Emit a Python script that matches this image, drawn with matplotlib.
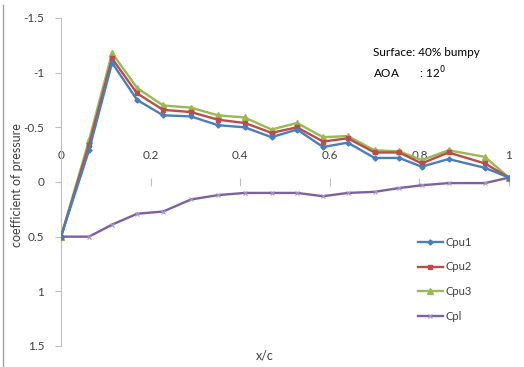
import matplotlib
matplotlib.use('Agg')
import matplotlib.pyplot as plt

# x/c stations and pressure coefficients
xc = [0, 0.0625, 0.114, 0.17, 0.228, 0.29, 0.35, 0.41, 0.47, 0.527,
      0.585, 0.64, 0.70, 0.755, 0.805, 0.865, 0.946, 1.0]
cpu1 = [0.5, -0.29, -1.09, -0.75, -0.61, -0.60, -0.52, -0.50, -0.41, -0.48,
        -0.32, -0.36, -0.22, -0.22, -0.14, -0.21, -0.13, -0.04]
cpu2 = [0.5, -0.34, -1.13, -0.81, -0.66, -0.64, -0.57, -0.54, -0.45, -0.50,
        -0.37, -0.40, -0.27, -0.27, -0.17, -0.27, -0.17, -0.04]
cpu3 = [0.5, -0.38, -1.18, -0.86, -0.70, -0.68, -0.61, -0.59, -0.48, -0.54,
        -0.41, -0.42, -0.29, -0.28, -0.20, -0.29, -0.23, -0.04]
cpl = [0.5, 0.50, 0.39, 0.29, 0.27, 0.16, 0.12, 0.10, 0.10, 0.10,
       0.13, 0.10, 0.09, 0.055, 0.03, 0.01, 0.01, -0.04]

xticks = [0, 0.2, 0.4, 0.6, 0.8, 1]
xticklabels = ['0', '0.2', '0.4', '0.6', '0.8', '1']
yticks = [-1.5, -1, -0.5, 0, 0.5, 1, 1.5]
yticklabels = ['-1.5', '-1', '-0.5', '0', '0.5', '1', '1.5']

plt.rcParams['font.family'] = ['Lato', 'DejaVu Sans']

fig = plt.figure(figsize=(5.24, 3.67), dpi=100)
ax = fig.add_axes([61/524, 1-346/367, 448/524, 328/367])

ax.plot(xc, cpu1, color='#4A7EBB', lw=1.7, marker='D', ms=2.6, label='Cpu1', zorder=4)
ax.plot(xc, cpu2, color='#BE4B48', lw=1.7, marker='s', ms=3.4, label='Cpu2', zorder=3)
ax.plot(xc, cpu3, color='#98B954', lw=1.7, marker='^', ms=3.8, label='Cpu3', zorder=2)
ax.plot(xc, cpl, color='#7D60A0', lw=1.7, marker='x', ms=3.5, mew=0.8,
        mec='#A99BC0', label='Cpl', zorder=2)

ax.set_xlim(0, 1)
ax.set_ylim(1.5, -1.5)

for s in ['right', 'bottom']:
    ax.spines[s].set_visible(False)
ax.spines['left'].set_color('#BFBFBF')
ax.spines['top'].set_position(('data', 0))
ax.spines['top'].set_visible(False)

ax.xaxis.set_ticks_position('top')
ax.set_xticks(xticks)
ax.set_xticklabels(xticklabels)
ax.tick_params(axis='x', direction='inout', length=6, color='#BFBFBF',
               pad=12, labelsize=8.5, labelcolor='#404040')
ax.set_yticks(yticks)
ax.set_yticklabels(yticklabels)
ax.tick_params(axis='y', direction='out', length=4, color='#BFBFBF',
               pad=8, labelsize=8.5, labelcolor='#404040')

fig.text(17/524, 1-185/367, 'coefficient of pressure', rotation=90,
         ha='center', va='center', fontsize=9, color='#404040')
fig.text(265/524, 1-355/367, 'x/c', ha='center', va='center',
         fontsize=9, color='#404040')

fig.text(373/524, 1-52/367, 'Surface: 40% bumpy', ha='left', va='center',
         fontsize=8.5, color='black')
fig.text(373/524, 1-73/367, 'AOA       : 12$^0$', ha='left', va='center',
         fontsize=8.5, color='black')

leg = ax.legend(loc='upper left', bbox_to_anchor=(412/524, 1-231/367),
                bbox_transform=fig.transFigure, frameon=False, fontsize=8,
                labelspacing=1.25, handlelength=2.3, handletextpad=0.2,
                borderpad=0)
for t in leg.get_texts():
    t.set_color('#404040')

fig.add_artist(plt.Line2D([3/524, 3/524], [0, 1-5/367], color='#A0A0A0',
                          lw=1, transform=fig.transFigure))

fig.savefig('out.png', dpi=100)
